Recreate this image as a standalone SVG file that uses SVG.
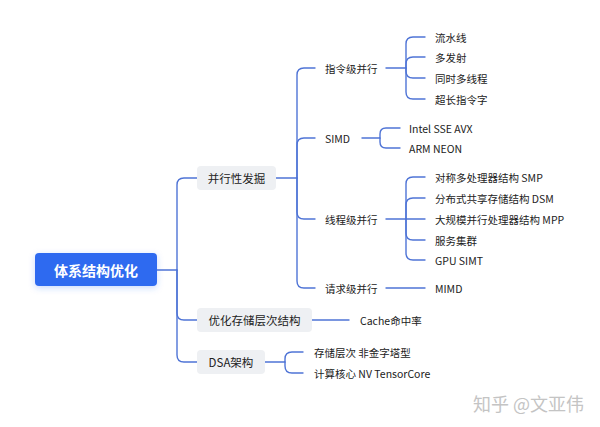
<svg xmlns="http://www.w3.org/2000/svg" width="600" height="427" viewBox="0 0 600 427">
<defs>
<filter id="sh" x="-20%" y="-40%" width="140%" height="180%">
<feDropShadow dx="0" dy="2" stdDeviation="3" flood-color="#2f6bf0" flood-opacity="0.25"/>
</filter>
</defs>
<style>
text{font-family:"Noto Sans CJK SC","Noto Sans",sans-serif;dominant-baseline:central;fill:#222;}
.c{fill:none;stroke:#4f74d6;stroke-width:1.4;stroke-linecap:round;}
.b{fill:#eef0f3;}
.l1{font-size:11.5px;}
.l2{font-size:10.5px;}
.l3{font-size:10.5px;}
</style>
<rect width="600" height="427" fill="#ffffff"/>
<g id="connectors">
<path class="c" d="M157,270 H177 V185 Q177,178 184,178 H197"/>
<path class="c" d="M177,270 V313 Q177,320 184,320 H197"/>
<path class="c" d="M177,270 V355 Q177,362 184,362 H197"/>
<path class="c" d="M276,178 H297 V75 Q297,68 304,68 H315"/>
<path class="c" d="M297,178 V145 Q297,138 304,138 H315"/>
<path class="c" d="M297,178 V212 Q297,219 304,219 H315"/>
<path class="c" d="M297,178 V281 Q297,288 304,288 H315"/>
<path class="c" d="M386,68 H406 V44 Q406,37 413,37 H425"/>
<path class="c" d="M406,68 V64 Q406,57 413,57 H425"/>
<path class="c" d="M406,68 V71 Q406,78 413,78 H425"/>
<path class="c" d="M406,68 V92 Q406,99 413,99 H425"/>
<path class="c" d="M362,138 H380 V134 Q380,128 386,128 H400"/>
<path class="c" d="M380,138 V142 Q380,148 386,148 H400"/>
<path class="c" d="M386,219 H406 V184 Q406,177 413,177 H425"/>
<path class="c" d="M406,219 V205 Q406,198 413,198 H425"/>
<path class="c" d="M406,219 H425"/>
<path class="c" d="M406,219 V233 Q406,240 413,240 H425"/>
<path class="c" d="M406,219 V253 Q406,260 413,260 H425"/>
<path class="c" d="M386,288 H425"/>
<path class="c" d="M312,320 H349"/>
<path class="c" d="M265,362 H285 V359 Q285,352 292,352 H303"/>
<path class="c" d="M285,362 V366 Q285,373 292,373 H303"/>
</g>
<g id="root">
<rect x="35" y="253" width="122" height="33" rx="4" fill="#2f6bf0" filter="url(#sh)"/>
<text x="96" y="269.5" text-anchor="middle" style="font-size:14px;font-weight:600;fill:#ffffff">体系结构优化</text>
</g>
<g id="n-parallel">
<rect class="b" x="197" y="166" width="79" height="24" rx="4"/>
<text class="l1" x="236.5" y="178" text-anchor="middle">并行性发掘</text>
</g>
<g id="n-storage">
<rect class="b" x="197" y="308" width="115" height="24" rx="4"/>
<text class="l1" x="254.5" y="320" text-anchor="middle">优化存储层次结构</text>
</g>
<g id="n-dsa">
<rect class="b" x="197" y="350" width="68" height="24" rx="4"/>
<text class="l1" x="231" y="362" text-anchor="middle">DSA架构</text>
</g>
<g id="n-ilp"><text class="l2" x="325" y="68">指令级并行</text></g>
<g id="n-simd"><text class="l2" x="325" y="138">SIMD</text></g>
<g id="n-tlp"><text class="l2" x="325" y="219">线程级并行</text></g>
<g id="n-rlp"><text class="l2" x="325" y="288">请求级并行</text></g>
<g id="n-pipe"><text class="l3" x="435" y="37">流水线</text></g>
<g id="n-multi"><text class="l3" x="435" y="57">多发射</text></g>
<g id="n-smt"><text class="l3" x="435" y="78">同时多线程</text></g>
<g id="n-vliw"><text class="l3" x="435" y="99">超长指令字</text></g>
<g id="n-intel"><text class="l3" x="409" y="128">Intel SSE AVX</text></g>
<g id="n-arm"><text class="l3" x="409" y="148">ARM NEON</text></g>
<g id="n-smp"><text class="l3" x="435" y="177">对称多处理器结构 SMP</text></g>
<g id="n-dsm"><text class="l3" x="435" y="198">分布式共享存储结构 DSM</text></g>
<g id="n-mpp"><text class="l3" x="435" y="219">大规模并行处理器结构 MPP</text></g>
<g id="n-cluster"><text class="l3" x="435" y="240">服务集群</text></g>
<g id="n-gpu"><text class="l3" x="435" y="260">GPU SIMT</text></g>
<g id="n-mimd"><text class="l3" x="435" y="288">MIMD</text></g>
<g id="n-cache"><text class="l3" x="360" y="320">Cache命中率</text></g>
<g id="n-hier"><text class="l3" x="314" y="352">存储层次 非金字塔型</text></g>
<g id="n-core"><text class="l3" x="314" y="373">计算核心 NV TensorCore</text></g>
<text x="473" y="403" style="font-size:18px;fill:#c4c4c4">知乎 @文亚伟</text>
</svg>
